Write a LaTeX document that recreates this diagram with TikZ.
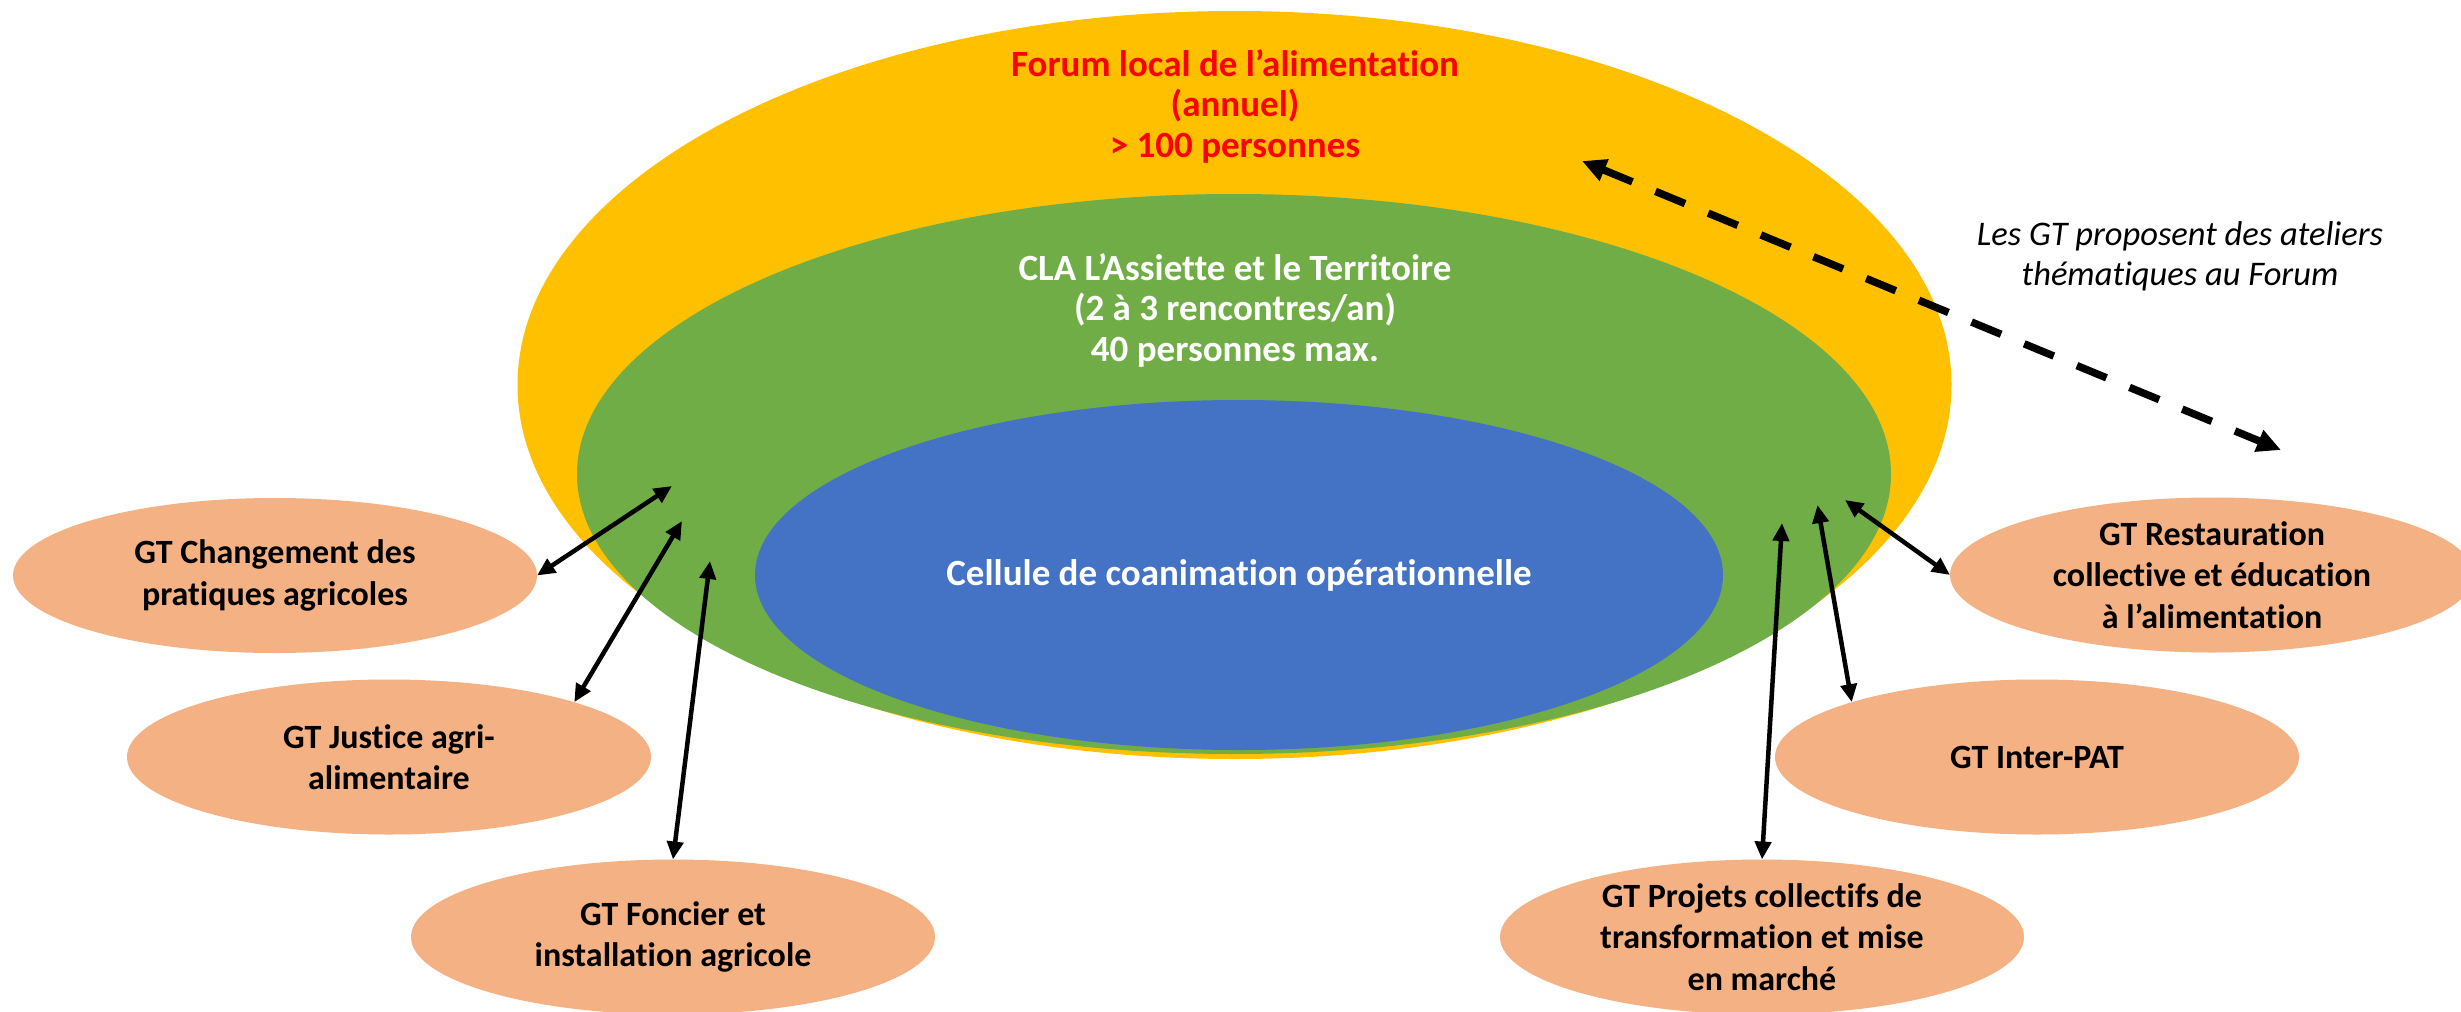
\documentclass[tikz,border=0pt]{standalone}
\usepackage{fontspec}
\setmainfont{Carlito}[Ligatures={NoCommon}]
\usetikzlibrary{shapes.geometric,arrows.meta}
\definecolor{forumyellow}{HTML}{FFC000}
\definecolor{clagreen}{HTML}{70AD47}
\definecolor{cellblue}{HTML}{4472C4}
\definecolor{gtorange}{HTML}{F4B183}
\definecolor{forumred}{HTML}{FF0000}
\begin{document}
\begin{tikzpicture}[x=1pt,y=-1pt,
  bigell/.style={ellipse, inner sep=0pt, outer sep=0pt},
  gt/.style={ellipse, fill=gtorange, minimum width=524pt, minimum height=155pt, inner sep=0pt, outer sep=0pt},
  gtlabel/.style={align=center, font=\fontsize{34}{41.5}\selectfont\bfseries, text=black, inner sep=0pt},
  bigtext/.style={align=center, font=\fontsize{37}{40.5}\selectfont\bfseries, inner sep=0pt},
  notetext/.style={align=center, font=\fontsize{34.5}{40}\selectfont\itshape, text=black, inner sep=0pt},
  link/.style={line width=4.5pt, {Triangle[length=18pt,width=16pt]}-{Triangle[length=18pt,width=16pt]}},
  forumlink/.style={line width=7.5pt, dash pattern=on 32pt off 25pt, {Triangle[length=24pt,width=22pt]}-{Triangle[length=24pt,width=22pt]}},
]
\useasboundingbox (0,0) rectangle (2461,1012);
% nested circles
\node[bigell, fill=forumyellow, minimum width=1434pt, minimum height=748pt] (forum) at (1234.5,385) {};
\node[bigell, fill=clagreen, minimum width=1314pt, minimum height=560pt] (cla) at (1234,474) {};
\node[bigell, fill=cellblue, minimum width=968pt, minimum height=350pt, text=white, font=\fontsize{37}{40.5}\selectfont\bfseries] (cell) at (1239,575) {Cellule de coanimation opérationnelle};
% texts
\node[bigtext, text=forumred] (forumtxt) at (1235,106) {Forum local de l’alimentation\\(annuel)\\> 100 personnes};
\node[bigtext, text=white] (clatxt) at (1235,310) {CLA L’Assiette et le Territoire\\(2 à 3 rencontres/an)\\40 personnes max.};
\node[notetext] (note) at (2180,256) {Les GT proposent des ateliers\\thématiques au Forum};
% working groups
\node[gt, label={[gtlabel]center:{GT Changement des\\pratiques agricoles}}] (chg) at (275,575.5) {};
\node[gt, label={[gtlabel]center:{GT Justice agri-\\alimentaire}}] (jus) at (389,757) {};
\node[gt, label={[gtlabel]center:{GT Foncier et\\installation agricole}}] (fon) at (673,937) {};
\node[gt, label={[gtlabel]center:{GT Restauration\\collective et éducation\\à l’alimentation}}] (res) at (2212,575) {};
\node[gt, label={[gtlabel]center:{GT Inter-PAT}}] (inter) at (2037,757) {};
\node[gt, label={[gtlabel]center:{GT Projets collectifs de\\transformation et mise\\en marché}}] (proj) at (1762,937) {};
% connector ends inside the CLA
\coordinate (p1) at (672,486);
\coordinate (p2) at (682,521);
\coordinate (p3) at (710,561);
\coordinate (p4) at (1845,500);
\coordinate (p5) at (1817.5,505);
\coordinate (p6) at (1782,523);
\coordinate (d1) at (1582,161);
\coordinate (d2) at (2281,450);
% connectors
\draw[link] (p1) -- (chg.east);
\draw[link] (p2) -- (jus.north east);
\draw[link] (p3) -- (fon.north);
\draw[link] (p4) -- (res.west);
\draw[link] (p5) -- (inter.north west);
\draw[link] (p6) -- (proj.north);
\draw[forumlink] (d1) -- (d2);
\end{tikzpicture}
\end{document}
